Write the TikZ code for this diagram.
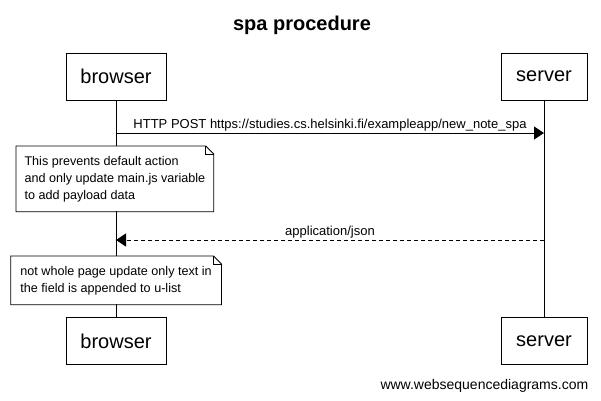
\documentclass[tikz,border=0pt]{standalone}
\usepackage{fontspec}
\setmainfont{Liberation Sans}
\usetikzlibrary{arrows.meta}
\definecolor{line_black}{RGB}{0,0,0}
\definecolor{note_white}{RGB}{255,255,255}

\begin{document}
\begin{tikzpicture}[x=1pt,y=-1pt,line width=0.8pt,draw=line_black,>={Triangle[length=10pt,width=13pt]}]
    \tikzstyle{actor}=[draw=line_black, rectangle, minimum height=47pt, inner sep=0pt, font=\fontsize{20}{24}\selectfont]
    \tikzstyle{note}=[rectangle, fill=note_white, anchor=north west, align=left, inner sep=0pt, font=\fontsize{12.6}{17}\selectfont]
    \tikzstyle{msg}=[font=\fontsize{13}{15}\selectfont, midway, above=1pt, inner sep=0pt]
    \tikzstyle{ear}=[draw=line_black, line join=miter]

    \useasboundingbox (0,0) rectangle (601,400);

    \node[font=\bfseries\fontsize{20}{24}\selectfont, anchor=base] (title) at (302,30) {spa procedure};

    \node[actor, minimum width=100pt] (browser)  at (116,76.5) {browser};
    \node[actor, minimum width=86pt]  (server)   at (544,76.5) {server};
    \node[actor, minimum width=100pt] (browser2) at (116,341)  {browser};
    \node[actor, minimum width=86pt]  (server2)  at (544,341)  {server};

    % lifelines
    \path
     (browser) edge (browser2)
     (server)  edge (server2)
     ;

    % message ends
    \coordinate (b1) at (116,133);
    \coordinate (s1) at (544,133);
    \coordinate (b2) at (116,240);
    \coordinate (s2) at (544,240);

    \draw[->] (b1) -- node[msg] {HTTP POST https://studies.cs.helsinki.fi/exampleapp/new\_note\_spa} (s1);
    \draw[->, dash pattern=on 4pt off 3pt] (s2) -- node[msg] {application/json} (b2);

    % notes
    \node[note, minimum width=197pt, minimum height=65pt] (note1) at (16,146)
      {This prevents default action\\and only update main.js variable\\to add payload data};
    \draw[ear] (note1.north west) -- ([xshift=-8pt]note1.north east) -- ++(8,8) -- (note1.south east) -- (note1.south west) -- cycle;
    \draw[ear] ([xshift=-8pt]note1.north east) -- ++(0,8) -- ++(8,0);

    \node[note, minimum width=210pt, minimum height=48pt] (note2) at (10.7,256)
      {not whole page update only text in\\the field is appended to u-list};
    \draw[ear] (note2.north west) -- ([xshift=-8pt]note2.north east) -- ++(8,8) -- (note2.south east) -- (note2.south west) -- cycle;
    \draw[ear] ([xshift=-8pt]note2.north east) -- ++(0,8) -- ++(8,0);

    \node[font=\fontsize{14}{17}\selectfont, anchor=base east] (footer) at (592,389) {www.websequencediagrams.com};
\end{tikzpicture}
\end{document}
